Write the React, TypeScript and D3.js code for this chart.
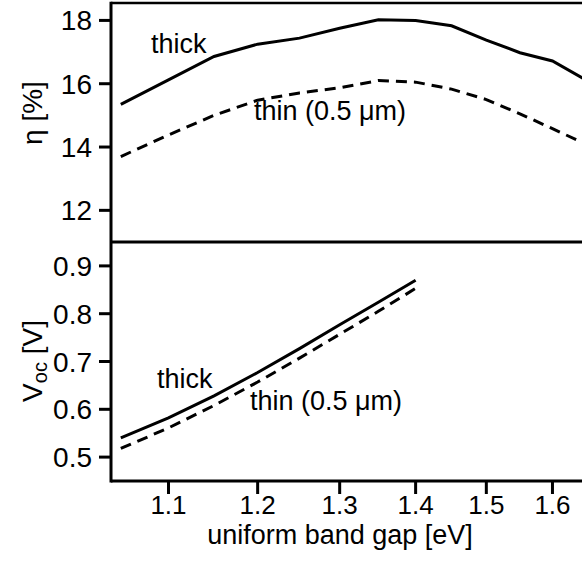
import React from "react";
import * as d3 from "d3";

const bandGap = [1.05, 1.1, 1.15, 1.2, 1.25, 1.3, 1.35, 1.4, 1.45, 1.5, 1.55, 1.6, 1.65];
const etaThick = [15.35, 16.12, 16.86, 17.25, 17.44, 17.75, 18.02, 18.0, 17.83, 17.38, 16.98, 16.72, 16.15];
const etaThin = [13.7, 14.38, 15.0, 15.48, 15.71, 15.87, 16.1, 16.05, 15.83, 15.5, 15.05, 14.58, 14.12];

const bandGapVoc = [1.05, 1.1, 1.15, 1.2, 1.25, 1.3, 1.35, 1.4];
const vocThick = [0.54, 0.582, 0.628, 0.677, 0.727, 0.777, 0.824, 0.87];
const vocThin = [0.518, 0.561, 0.608, 0.657, 0.707, 0.757, 0.805, 0.853];

const xTicks = [1.1, 1.2, 1.3, 1.4, 1.5, 1.6];
const etaTicks = [12, 14, 16, 18];
const vocTicks = [0.5, 0.6, 0.7, 0.8, 0.9];

const W = 582;
const H = 571;
const LEFT = 111;
const TOP = 3;
const MID = 242;
const BOTTOM = 481;
const FONT = "'Liberation Sans', Arial, Helvetica, sans-serif";

export default function App() {
  const x = d3.scaleLog().domain([1.04, 1.65]).range([LEFT, 584]);
  const yEta = d3.scaleLinear().domain([11, 18.55]).range([MID, TOP]);
  const yVoc = d3.scaleLinear().domain([0.45, 0.95]).range([BOTTOM, MID]);

  const lineEta = (vals: number[]) =>
    d3.line<number>().x((_, i) => x(bandGap[i])).y((d) => yEta(d))(vals) || "";
  const lineVoc = (vals: number[]) =>
    d3.line<number>().x((_, i) => x(bandGapVoc[i])).y((d) => yVoc(d))(vals) || "";

  const tickFs = 28;
  return (
    <svg
      width={W}
      height={H}
      viewBox={`0 0 ${W} ${H}`}
      style={{ position: "absolute", left: 0, top: 0, background: "#fff" }}
      fontFamily={FONT}
    >
      <rect x={0} y={0} width={W} height={H} fill="#fff" />
      {/* frame */}
      <line x1={LEFT} x2={W} y1={TOP} y2={TOP} stroke="#000" strokeWidth={2.5} />
      <line x1={LEFT} x2={W} y1={MID} y2={MID} stroke="#000" strokeWidth={3} />
      <line x1={LEFT} x2={W} y1={BOTTOM} y2={BOTTOM} stroke="#000" strokeWidth={3} />
      <line x1={LEFT} x2={LEFT} y1={TOP - 1.25} y2={BOTTOM + 1.5} stroke="#000" strokeWidth={3} />

      {/* eta ticks */}
      {etaTicks.map((t) => (
        <g key={"e" + t}>
          <line x1={LEFT - 12} x2={LEFT} y1={yEta(t)} y2={yEta(t)} stroke="#000" strokeWidth={3} />
          <text x={92} y={yEta(t) + 0.36 * tickFs} fontSize={tickFs} textAnchor="end">
            {t}
          </text>
        </g>
      ))}
      {/* voc ticks */}
      {vocTicks.map((t) => (
        <g key={"v" + t}>
          <line x1={LEFT - 12} x2={LEFT} y1={yVoc(t)} y2={yVoc(t)} stroke="#000" strokeWidth={3} />
          <text x={92} y={yVoc(t) + 0.36 * tickFs} fontSize={tickFs} textAnchor="end">
            {t.toFixed(1)}
          </text>
        </g>
      ))}
      {/* x ticks */}
      {xTicks.map((t) => (
        <g key={"x" + t}>
          <line x1={x(t)} x2={x(t)} y1={BOTTOM} y2={BOTTOM + 13} stroke="#000" strokeWidth={3} />
          <text x={x(t)} y={514} fontSize={26} textAnchor="middle">
            {t.toFixed(1)}
          </text>
        </g>
      ))}
      <text x={340} y={544} fontSize={27} textAnchor="middle">
        uniform band gap [eV]
      </text>

      {/* y titles */}
      <text transform="translate(42,113) rotate(-90)" fontSize={28} textAnchor="middle">
        η [%]
      </text>
      <text transform="translate(42,361) rotate(-90)" fontSize={28} textAnchor="middle">
        V<tspan fontSize={20} dy={5}>oc</tspan>
        <tspan dy={-5}> [V]</tspan>
      </text>

      {/* curves */}
      <path d={lineEta(etaThick)} fill="none" stroke="#000" strokeWidth={3} />
      <path d={lineEta(etaThin)} fill="none" stroke="#000" strokeWidth={3} strokeDasharray="11,7" />
      <path d={lineVoc(vocThick)} fill="none" stroke="#000" strokeWidth={3} />
      <path d={lineVoc(vocThin)} fill="none" stroke="#000" strokeWidth={3} strokeDasharray="11,7" />

      {/* labels */}
      <text x={151} y={53} fontSize={27}>thick</text>
      <text x={254} y={120} fontSize={27}>thin (0.5 μm)</text>
      <text x={157} y={388} fontSize={27}>thick</text>
      <text x={250} y={410} fontSize={27}>thin (0.5 μm)</text>
    </svg>
  );
}
